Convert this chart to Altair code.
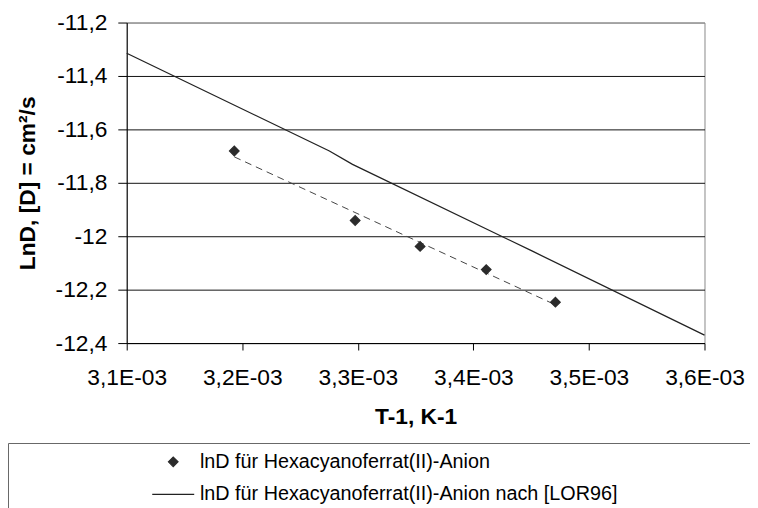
import altair as alt
import pandas as pd

# Measured data (ln D vs 1/T)
meas_x = [0.0031931, 0.0032977, 0.0033539, 0.0034111, 0.0034710]
meas_y = [-11.681, -11.941, -12.038, -12.125, -12.247]

# Literature line [LOR96]
lit_x = [0.0031000, 0.0032754, 0.0032954, 0.0034511, 0.0036000]
lit_y = [-11.315, -11.681, -11.731, -12.056, -12.370]

x_ticks = [0.0031, 0.0032, 0.0033, 0.0034, 0.0035, 0.0036]
y_ticks = [-12.4, -12.2, -12.0, -11.8, -11.6, -11.4, -11.2]

s1 = "lnD für Hexacyanoferrat(II)-Anion"
s2 = "lnD für Hexacyanoferrat(II)-Anion nach [LOR96]"

meas = pd.DataFrame({"x": meas_x, "y": meas_y, "series": [s1] * len(meas_x)})
lit = pd.DataFrame({"x": lit_x, "y": lit_y})

FONT = "Liberation Sans"

xscale = alt.Scale(domain=[0.0031, 0.0036], nice=False, zero=False)
yscale = alt.Scale(domain=[-12.4, -11.2], nice=False, zero=False)

xaxis = alt.Axis(
    values=x_ticks,
    title="T-1, K-1",
    labelExpr="replace(format(datum.value*1000, '.1f'), '.', ',') + 'E-03'",
    grid=False,
    labelFlush=False,
    labelOverlap=False,
    tickSize=7,
    labelPadding=17,
    titlePadding=16,
)
yaxis = alt.Axis(
    values=y_ticks,
    title="LnD, [D] = cm²/s",
    labelExpr="replace(toString(round(datum.value*10)/10), '.', ',')",
    grid=True,
    labelFlush=False,
    labelOverlap=False,
    gridColor={"condition": {"test": "datum.value > -11.21", "value": "#888888"}, "value": "#111111"},
    tickSize=9,
    labelPadding=11,
    titlePadding=16,
)

# trailing blank run (ended by a zero-width char so it is not trimmed) widens the legend frame
pad = "\u00a0" * 24 + "\u200b"

legend = alt.Legend(
    title=None,
    orient="none",
    legendX=-120,
    legendY=425,
    padding=9,
    strokeColor="#666666",
    clipHeight=20,
    rowPadding=13,
    symbolOffset=136,
    labelOffset=5,
    labelFont=FONT,
    labelFontSize=20,
    labelColor="#000000",
    labelLimit=3000,
    labelExpr="datum.label + '" + pad + "'",
    symbolStrokeColor="#222222",
    symbolFillColor="#2b2b2b",
    symbolStrokeWidth=1.2,
)

base_x = alt.X("x:Q", scale=xscale, axis=xaxis)
base_y = alt.Y("y:Q", scale=yscale, axis=yaxis)

lit_line = alt.Chart(lit).mark_line(color="#222222", strokeWidth=1.3).encode(
    x=base_x, y=base_y
)

trend = (
    alt.Chart(meas)
    .transform_regression("x", "y")
    .mark_line(color="#444444", strokeWidth=1, strokeDash=[7, 5])
    .encode(x="x:Q", y="y:Q")
)

pts = alt.Chart(meas).mark_point(
    filled=True, fill="#2b2b2b", strokeWidth=1.2, opacity=1
).encode(
    x="x:Q",
    y="y:Q",
    shape=alt.Shape(
        "series:N",
        scale=alt.Scale(domain=[s1, s2], range=["diamond", "stroke"]),
        legend=legend,
    ),
    size=alt.Size(
        "series:N",
        scale=alt.Scale(domain=[s1, s2], range=[95, 1800]),
        legend=legend,
    ),
    stroke=alt.Stroke(
        "series:N",
        scale=alt.Scale(domain=[s1, s2], range=["#2b2b2b", "#222222"]),
        legend=legend,
    ),
)

chart = (
    alt.layer(lit_line, trend, pts)
    .properties(
        width=584,
        height=324,
        autosize=alt.AutoSizeParams(type="none"),
        padding={"left": 120, "top": 12, "right": 46, "bottom": 164},
        background="white",
    )
    .configure_view(stroke="#888888", strokeWidth=1)
    .configure_axis(
        labelFont=FONT,
        labelFontSize=23,
        labelColor="#000000",
        titleFont=FONT,
        titleFontSize=23,
        titleFontWeight="bold",
        titleColor="#000000",
        domainColor="#000000",
        domainWidth=1,
        tickColor="#000000",
        gridWidth=1,
    )
)

chart.save("out.html", embed_options={"renderer": "svg", "actions": False})
